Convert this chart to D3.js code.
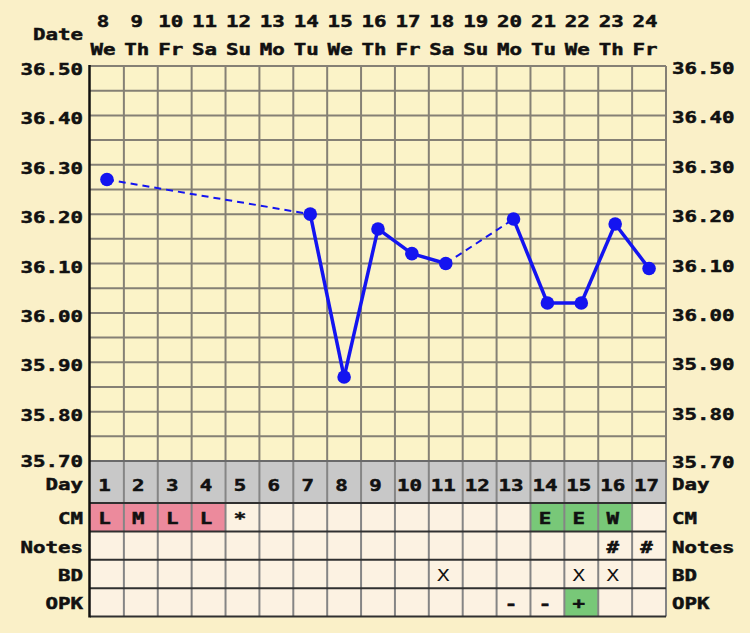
<!DOCTYPE html>
<html><head><meta charset="utf-8">
<script src="https://cdn.jsdelivr.net/npm/d3@7"></script>
<style>html,body{margin:0;padding:0;background:#FAF0C8;}svg{display:block;}</style>
</head><body>
<script>
const dates = ["8","9","10","11","12","13","14","15","16","17","18","19","20","21","22","23","24"];
const weekdays = ["We","Th","Fr","Sa","Su","Mo","Tu","We","Th","Fr","Sa","Su","Mo","Tu","We","Th","Fr"];
const cycleDays = [1,2,3,4,5,6,7,8,9,10,11,12,13,14,15,16,17];
const tempDays = [1,7,8,9,10,11,13,14,15,16,17];
const temps = [36.27,36.20,35.87,36.17,36.12,36.10,36.19,36.02,36.02,36.18,36.09];
const yTicks = [36.5,36.4,36.3,36.2,36.1,36.0,35.9,35.8,35.7];
const cmRow = ["L","M","L","L","*","","","","","","","","","E","E","W",""];
const notesRow = ["","","","","","","","","","","","","","","","#","#"];
const bdRow = ["","","","","","","","","","","X","","","","X","X",""];
const opkRow = ["","","","","","","","","","","","","-","-","+","",""];
const rowNames = ["CM","Notes","BD","OPK"];

const W = 750, H = 633;
const svg = d3.select("body").append("svg").attr("width", W).attr("height", H);
svg.append("rect").attr("width", W).attr("height", H).attr("fill", "#FAF0C8");

const x = d3.scaleBand().domain(cycleDays).range([90, 666]).padding(0);
const y = d3.scaleLinear().domain([35.7, 36.5]).range([461, 66]);
const bw = x.bandwidth();
const rowTop = 503, rowH = 28.4;

const FONT = "'DejaVu Sans Mono', monospace";
function txt(px, py, s, anchor, opts) {
  opts = opts || {};
  const g = svg.append("g").attr("transform", `translate(${px},${py}) scale(1.26,1)`);
  g.append("text").attr("text-anchor", anchor || "start")
    .attr("font-family", FONT).attr("font-weight", opts.weight || "bold")
    .attr("font-size", opts.size || 16.5).attr("fill", "#111")
    .attr("stroke", opts.weight === "normal" ? null : "#111").attr("stroke-width", 0.5)
    .text(s);
}

// plot background
svg.append("rect").attr("x", 90).attr("y", 66).attr("width", 576).attr("height", 395).attr("fill", "#FBF3C8");

// grid
const gridVals = d3.range(0, 17).map(i => 35.7 + i * 0.05);
svg.append("g").selectAll("line").data(gridVals).join("line")
  .attr("x1", 90).attr("x2", 666).attr("y1", d => y(d)).attr("y2", d => y(d))
  .attr("stroke", "#858075").attr("stroke-width", 2);
svg.append("g").selectAll("line").data(cycleDays.slice(1).concat([18])).join("line")
  .attr("x1", d => d === 18 ? 666 : x(d)).attr("x2", d => d === 18 ? 666 : x(d))
  .attr("y1", 66).attr("y2", 461)
  .attr("stroke", "#858075").attr("stroke-width", 2);

// table
svg.append("g").selectAll("rect").data(cycleDays).join("rect")
  .attr("x", d => x(d)).attr("y", 461).attr("width", bw).attr("height", 42).attr("fill", "#C8C8C8");
const rows = [cmRow, notesRow, bdRow, opkRow];
rows.forEach((row, ri) => {
  svg.append("g").selectAll("rect").data(cycleDays).join("rect")
    .attr("x", d => x(d)).attr("y", rowTop + ri * rowH).attr("width", bw).attr("height", rowH)
    .attr("fill", (d, i) => {
      const v = row[i];
      if (ri === 0 && (v === "L" || v === "M")) return "#EC8A9C";
      if (ri === 0 && (v === "E" || v === "W")) return "#78C878";
      if (ri === 3 && v === "+") return "#78C878";
      return "#FCF2E2";
    });
});
// vertical table lines
svg.append("g").selectAll("line").data(cycleDays.slice(1).concat([18])).join("line")
  .attr("x1", d => d === 18 ? 666 : x(d)).attr("x2", d => d === 18 ? 666 : x(d))
  .attr("y1", 461).attr("y2", rowTop + 4 * rowH)
  .attr("stroke", "#858585").attr("stroke-width", 2);
// horizontal table lines
[461, 503, rowTop + rowH, rowTop + 2 * rowH, rowTop + 3 * rowH, rowTop + 4 * rowH].forEach(v => {
  svg.append("line").attr("x1", 90).attr("x2", 666).attr("y1", v).attr("y2", v)
    .attr("stroke", v === 461 ? "#6a6a6a" : "#303030").attr("stroke-width", 2);
});
// left border
svg.append("line").attr("x1", 89.5).attr("x2", 89.5).attr("y1", 65).attr("y2", rowTop + 4 * rowH + 1)
  .attr("stroke", "#111").attr("stroke-width", 2.5);

// header
txt(83, 40, "Date", "end");
dates.forEach((d, i) => txt(x(cycleDays[i]) + bw / 2 - 4, 27, d, "middle"));
weekdays.forEach((d, i) => txt(x(cycleDays[i]) + bw / 2 - 4, 55, d, "middle"));

// y labels
yTicks.forEach((t, i) => {
  const last = i === yTicks.length - 1;
  const off = last ? 6 : 9;
  txt(83, y(t) + off, t.toFixed(2), "end");
  txt(672, y(t) + (last ? 7 : 8), t.toFixed(2), "start");
});

// day row
txt(83, 490, "Day", "end");
txt(672, 490, "Day", "start");
cycleDays.forEach(d => txt(x(d) + bw / 2 - 2.5, 491, String(d), "middle"));

// other rows
rows.forEach((row, ri) => {
  const cy = rowTop + ri * rowH + rowH / 2 + 7;
  txt(83, cy, rowNames[ri], "end");
  txt(672, cy, rowNames[ri], "start");
  row.forEach((v, i) => {
    if (!v) return;
    const w = (ri === 2) ? "normal" : "bold";
    txt(x(cycleDays[i]) + bw / 2 - 2.5, cy, v, "middle", {weight: w});
  });
});

// temperature line
const pts = tempDays.map((d, i) => ({day: d, t: temps[i]}));
const cx = d => x(d.day) + bw / 2;
const blue = "#1414F0";
for (let i = 1; i < pts.length; i++) {
  const a = pts[i - 1], b = pts[i];
  const gap = b.day - a.day > 1;
  svg.append("line").attr("x1", cx(a)).attr("y1", y(a.t)).attr("x2", cx(b)).attr("y2", y(b.t))
    .attr("stroke", blue).attr("stroke-width", gap ? 2 : 3.5)
    .attr("stroke-dasharray", gap ? "7,5" : null);
}
svg.append("g").selectAll("circle").data(pts).join("circle")
  .attr("cx", cx).attr("cy", d => y(d.t)).attr("r", 6.8).attr("fill", blue);
</script>
</body></html>
